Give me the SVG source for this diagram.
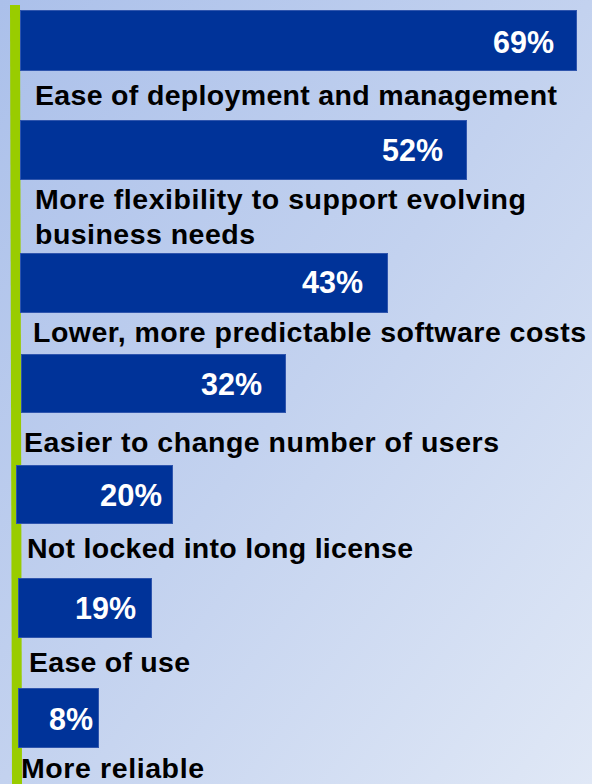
<svg xmlns="http://www.w3.org/2000/svg" width="592" height="784" viewBox="0 0 592 784">
<defs>
<linearGradient id="bg" x1="0" y1="0" x2="1" y2="1">
<stop offset="0" stop-color="#abc0ea"/>
<stop offset="0.5" stop-color="#c3d2ef"/>
<stop offset="1" stop-color="#e0e8f6"/>
</linearGradient>
</defs>
<style>
.bar{fill:#003399;stroke:#2f55ad;stroke-width:1}
.pct{font-family:"Liberation Sans",Arial,sans-serif;font-weight:bold;font-size:32px;fill:#ffffff;text-anchor:end}
.lbl{font-family:"Liberation Sans",Arial,sans-serif;font-weight:bold;font-size:28.5px;fill:#000000}
</style>
<rect width="592" height="784" fill="url(#bg)"/>
<polygon points="10,5 20,5 22,784 12,784" fill="#99cc00"/>
<g id="connectors"/>
<g id="item1">
<rect class="bar" x="20.5" y="10.5" width="556" height="60"/>
<text class="pct" x="554" y="53" textLength="61" lengthAdjust="spacingAndGlyphs">69%</text>
<text class="lbl" x="35" y="105" textLength="522" lengthAdjust="spacing">Ease of deployment and management</text>
</g>
<g id="item2">
<rect class="bar" x="20.5" y="120.5" width="446" height="59"/>
<text class="pct" x="443" y="161" textLength="61" lengthAdjust="spacingAndGlyphs">52%</text>
<text class="lbl" x="35" y="209" textLength="491" lengthAdjust="spacing">More flexibility to support evolving</text>
<text class="lbl" x="35" y="244" textLength="220" lengthAdjust="spacing">business needs</text>
</g>
<g id="item3">
<rect class="bar" x="20.5" y="253.5" width="367" height="59"/>
<text class="pct" x="363" y="293" textLength="61" lengthAdjust="spacingAndGlyphs">43%</text>
<text class="lbl" x="33" y="342" textLength="553" lengthAdjust="spacing">Lower, more predictable software costs</text>
</g>
<g id="item4">
<rect class="bar" x="21.5" y="354.5" width="264" height="58"/>
<text class="pct" x="262" y="395" textLength="61" lengthAdjust="spacingAndGlyphs">32%</text>
<text class="lbl" x="24" y="452" textLength="475" lengthAdjust="spacing">Easier to change number of users</text>
</g>
<g id="item5">
<rect class="bar" x="16.5" y="465.5" width="156" height="58"/>
<text class="pct" x="162" y="506" textLength="62" lengthAdjust="spacingAndGlyphs">20%</text>
<text class="lbl" x="27" y="558" textLength="386" lengthAdjust="spacing">Not locked into long license</text>
</g>
<g id="item6">
<rect class="bar" x="18.5" y="578.5" width="133" height="59"/>
<text class="pct" x="136" y="619" textLength="61" lengthAdjust="spacingAndGlyphs">19%</text>
<text class="lbl" x="29" y="672" textLength="161" lengthAdjust="spacing">Ease of use</text>
</g>
<g id="item7">
<rect class="bar" x="18.5" y="688.5" width="80" height="59"/>
<text class="pct" x="93" y="730" textLength="44" lengthAdjust="spacingAndGlyphs">8%</text>
<text class="lbl" x="21" y="778" textLength="183" lengthAdjust="spacing">More reliable</text>
</g>
</svg>
